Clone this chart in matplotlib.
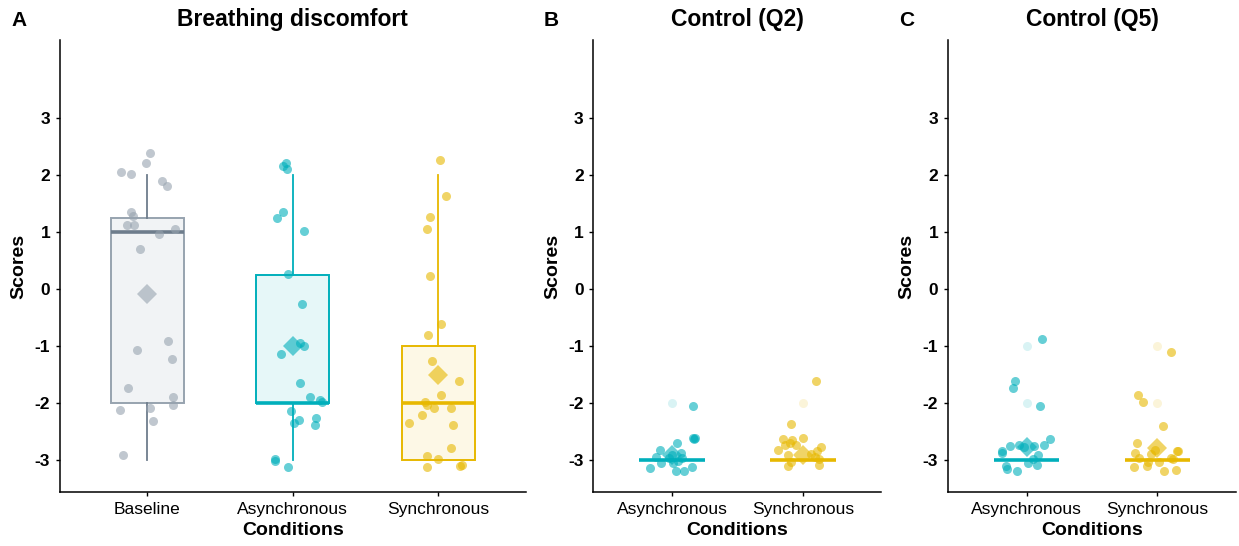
import numpy as np
import matplotlib.pyplot as plt

plt.rcParams['font.family'] = ['Liberation Sans', 'DejaVu Sans']
plt.rcParams['axes.unicode_minus'] = False

# colours per condition
col_base = "#97A3AF"
col_async = "#00AFBB"
col_sync = "#E7B800"

# ---- panel A: breathing discomfort (jittered scores, x-jitter in category units)
base_y = [2.39, 2.22, 2.05, 2.01, 1.89, 1.80, 1.36, 1.28, 1.13, 1.13, 1.05, 0.96, 0.70,
          -0.92, -1.07, -1.22, -1.73, -1.89, -2.04, -2.08, -2.13, -2.32, -2.91]
base_jit = [0.02, -0.01, -0.18, -0.11, 0.10, 0.135, -0.11, -0.10, -0.14, -0.09, 0.19, 0.08, -0.05,
            0.14, -0.07, 0.17, -0.13, 0.18, 0.18, 0.02, -0.19, 0.04, -0.17]
asyncA_y = [2.22, 2.15, 2.11, 1.35, 1.25, 1.01, 0.26, -0.26, -0.95, -1.0, -1.14, -1.65, -1.89,
            -1.94, -1.98, -2.14, -2.26, -2.30, -2.35, -2.39, -2.99, -3.01, -3.12]
asyncA_jit = [-0.05, -0.07, -0.04, -0.07, -0.11, 0.08, -0.03, 0.06, 0.05, 0.08, -0.08, 0.05, 0.12,
              0.19, 0.20, -0.01, 0.16, 0.04, 0.01, 0.15, -0.12, -0.12, -0.03]
syncA_y = [2.27, 1.64, 1.26, 1.05, 0.23, -0.62, -0.81, -1.26, -1.62, -1.86, -1.98, -2.04, -2.08,
           -2.08, -2.21, -2.35, -2.39, -2.79, -2.93, -2.99, -3.12, -3.08, -3.10]
syncA_jit = [0.01, 0.05, -0.06, -0.08, -0.06, 0.02, -0.07, -0.04, 0.14, 0.02, -0.09, -0.08, -0.03,
             0.09, -0.11, -0.20, 0.10, 0.09, -0.08, 0.0, -0.08, 0.16, 0.15]

# box stats: lower whisker, q1, median, q3, upper whisker, mean
base_box = [-3, -2, 1, 1.25, 2, -0.09]
asyncA_box = [-3, -2, -2, 0.25, 2, -1.0]
syncA_box = [-3, -3, -2, -1, 2, -1.51]

# ---- panel B: control Q2
asyncB_y = [-2.06, -2.61, -2.61, -2.63, -2.70, -2.82, -2.87, -2.95, -2.96, -2.96, -3.06, -3.05,
            -3.13, -3.14, -3.19, -3.20, -2.92, -3.02]
asyncB_jit = [0.16, 0.16, 0.18, 0.17, 0.04, -0.09, 0.07, -0.12, 0.08, -0.02, -0.08, 0.01,
              0.15, -0.17, 0.03, 0.09, 0.0, 0.05]
syncB_y = [-1.62, -2.37, -2.63, -2.61, -2.64, -2.71, -2.74, -2.74, -2.82, -2.78, -2.85, -2.89,
           -2.92, -2.94, -2.99, -3.04, -3.08, -3.10]
syncB_jit = [0.10, -0.09, -0.15, 0.0, -0.08, -0.10, -0.14, -0.05, -0.19, 0.14, 0.11, 0.06,
             -0.11, 0.09, 0.12, -0.09, 0.12, -0.11]
asyncB_box = [-3, -3, -3, -3, -3, -2.92]
syncB_box = [-3, -3, -3, -3, -3, -2.92]
asyncB_out = [-2]
syncB_out = [-2]

# ---- panel C: control Q5
asyncC_y = [-0.88, -1.61, -1.74, -2.05, -2.63, -2.73, -2.76, -2.73, -2.78, -2.75, -2.84, -2.87,
            -2.91, -2.98, -3.06, -3.09, -3.11, -3.16, -3.20]
asyncC_jit = [0.12, -0.09, -0.10, 0.10, 0.18, 0.13, -0.13, -0.06, -0.02, 0.06, -0.19, -0.19,
              0.09, 0.05, 0.01, 0.08, -0.16, -0.15, -0.07]
syncC_y = [-1.11, -1.86, -1.99, -2.41, -2.70, -2.82, -2.88, -2.85, -2.85, -2.89, -2.96, -2.96,
           -2.99, -3.04, -3.03, -3.12, -3.10, -3.20, -3.18]
syncC_jit = [0.10, -0.15, -0.11, 0.04, -0.16, -0.02, -0.17, 0.15, 0.16, -0.05, -0.14, 0.10,
             0.12, 0.01, -0.07, -0.18, -0.08, 0.05, 0.14]
asyncC_box = [-3, -3, -3, -3, -3, -2.78]
syncC_box = [-3, -3, -3, -3, -3, -2.79]
asyncC_out = [-1, -2]
syncC_out = [-1, -2]

cond3 = ["Baseline", "Asynchronous", "Synchronous"]
cond2 = ["Asynchronous", "Synchronous"]


def light(c, a):
    rgb = np.array(plt.matplotlib.colors.to_rgb(c))
    return tuple(1 - a * (1 - rgb))


def draw_group(ax, pos, box, ys, jit, col, outs=(), fill_a=0.1, med_col=None):
    st = dict(whislo=box[0], q1=box[1], med=box[2], q3=box[3], whishi=box[4], fliers=[])
    ax.bxp([st], positions=[pos], widths=0.5, showcaps=False, showfliers=False,
           patch_artist=True,
           boxprops=dict(facecolor=light(col, fill_a), edgecolor=col, linewidth=1.4),
           whiskerprops=dict(color=med_col or col, linewidth=1.3),
           medianprops=dict(color=med_col or col, linewidth=2.6, solid_capstyle='butt'),
           zorder=2)
    for o in outs:
        ax.plot(pos, o, 'o', color=col, alpha=0.15, markersize=6.5, markeredgewidth=0, zorder=3)
    ax.plot(pos + np.array(jit), ys, 'o', color=col, alpha=0.6, markersize=6.5,
            markeredgewidth=0, zorder=4)
    ax.plot(pos, box[5], 'D', color=col, alpha=0.6, markersize=10, markeredgewidth=0, zorder=5)


def style(ax, title, labels, letter, lx):
    ax.set_ylim(-3.56, 4.37)
    ax.set_yticks([-3, -2, -1, 0, 1, 2, 3])
    ax.set_xticks(range(len(labels)))
    ax.set_xticklabels(labels, fontsize=12.5)
    for t in ax.get_yticklabels():
        t.set_fontweight('bold')
        t.set_fontsize(12.5)
    ax.spines['top'].set_visible(False)
    ax.spines['right'].set_visible(False)
    ax.spines['left'].set_linewidth(1.1)
    ax.spines['bottom'].set_linewidth(1.1)
    ax.tick_params(length=3, width=1, colors='black', pad=4)
    ax.set_title(title, fontsize=16.5, fontweight='bold', pad=10)
    ax.set_xlabel("Conditions", fontsize=14, fontweight='bold', labelpad=4)
    ax.set_ylabel("Scores", fontsize=14, fontweight='bold', labelpad=5)
    fig.text(lx, 0.962, letter, fontsize=15, fontweight='bold', va='center')


fig = plt.figure(figsize=(12.39, 5.46), dpi=100)
h = 0.8278
axA = fig.add_axes([0.0484, 0.099, 0.3758, h])
axB = fig.add_axes([0.4789, 0.099, 0.2325, h])
axC = fig.add_axes([0.7651, 0.099, 0.2325, h])

draw_group(axA, 0, base_box, base_y, base_jit, col_base, fill_a=0.13, med_col="#6E7D8C")
draw_group(axA, 1, asyncA_box, asyncA_y, asyncA_jit, col_async)
draw_group(axA, 2, syncA_box, syncA_y, syncA_jit, col_sync)
axA.set_xlim(-0.6, 2.6)
style(axA, "Breathing discomfort", cond3, "A", 0.009)

draw_group(axB, 0, asyncB_box, asyncB_y, asyncB_jit, col_async, asyncB_out)
draw_group(axB, 1, syncB_box, syncB_y, syncB_jit, col_sync, syncB_out)
axB.set_xlim(-0.6, 1.6)
style(axB, "Control (Q2)", cond2, "B", 0.439)

draw_group(axC, 0, asyncC_box, asyncC_y, asyncC_jit, col_async, asyncC_out)
draw_group(axC, 1, syncC_box, syncC_y, syncC_jit, col_sync, syncC_out)
axC.set_xlim(-0.6, 1.6)
style(axC, "Control (Q5)", cond2, "C", 0.726)

fig.savefig("out.png", dpi=100)
